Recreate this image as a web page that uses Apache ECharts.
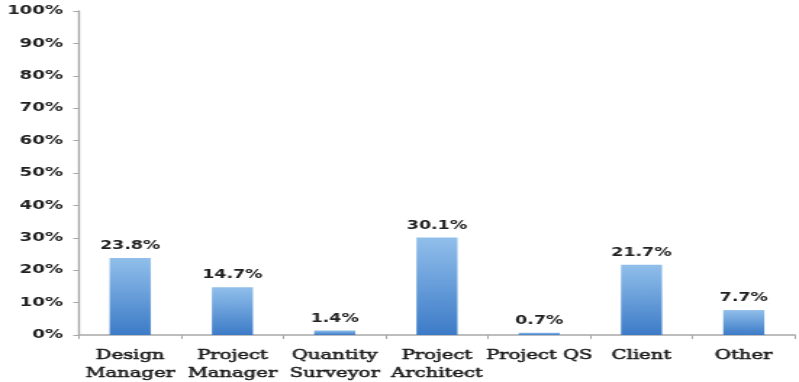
<!DOCTYPE html>
<html>
<head>
<meta charset="utf-8">
<script src="https://cdn.jsdelivr.net/npm/echarts@6/dist/echarts.min.js"></script>
<style>
  html, body { margin: 0; padding: 0; background: #fff; overflow: hidden; }
  /* Chart is drawn narrow and stretched horizontally for the wide lettering */
  #chart { width: 551px; height: 382px; transform: scaleX(1.45); transform-origin: 0 0; }
</style>
</head>
<body>
<div id="chart"></div>
<script>
const categories = ['Design\nManager', 'Project\nManager', 'Quantity\nSurveyor', 'Project\nArchitect', 'Project QS', 'Client', 'Other'];
const shares = [23.8, 14.7, 1.4, 30.1, 0.7, 21.7, 7.7];
const yTicks = [0, 10, 20, 30, 40, 50, 60, 70, 80, 90, 100];

const chart = echarts.init(document.getElementById('chart'), null, { renderer: 'canvas' });
chart.setOption({
  animation: false,
  backgroundColor: '#ffffff',
  grid: { left: 54.5, right: 2.8, top: 11, bottom: 47, containLabel: false },
  xAxis: {
    type: 'category',
    data: categories,
    axisLine: { lineStyle: { color: '#a8a8a8', width: 1.5 } },
    axisTick: { show: true, length: 4, lineStyle: { color: '#a8a8a8', width: 1 } },
    axisLabel: {
      interval: 0,
      margin: 11,
      fontFamily: 'DejaVu Serif',
      fontSize: 13.5,
      lineHeight: 18,
      color: '#1a1a1a',
      textBorderColor: '#1a1a1a',
      textBorderWidth: 0.5
    }
  },
  yAxis: {
    type: 'value',
    min: yTicks[0],
    max: yTicks[yTicks.length - 1],
    interval: yTicks[1] - yTicks[0],
    axisLine: { show: true, lineStyle: { color: '#a8a8a8', width: 1.4 } },
    axisTick: { show: true, length: 4, lineStyle: { color: '#a8a8a8', width: 1 } },
    splitLine: { show: false },
    axisLabel: {
      margin: 11,
      fontFamily: 'DejaVu Sans',
      fontWeight: 'bold',
      fontSize: 12.5,
      color: '#222',
      formatter: v => v + '%'
    }
  },
  series: [{
    type: 'bar',
    data: shares,
    barWidth: 28.3,
    itemStyle: {
      color: new echarts.graphic.LinearGradient(0, 0, 0, 1, [
        { offset: 0, color: '#91bfeb' },
        { offset: 1, color: '#3c7bc7' }
      ])
    },
    label: {
      show: true,
      position: 'top',
      distance: 6,
      fontFamily: 'DejaVu Sans',
      fontWeight: 'bold',
      fontSize: 12,
      color: '#222',
      formatter: p => p.value.toFixed(1) + '%'
    }
  }]
});
</script>
</body>
</html>
